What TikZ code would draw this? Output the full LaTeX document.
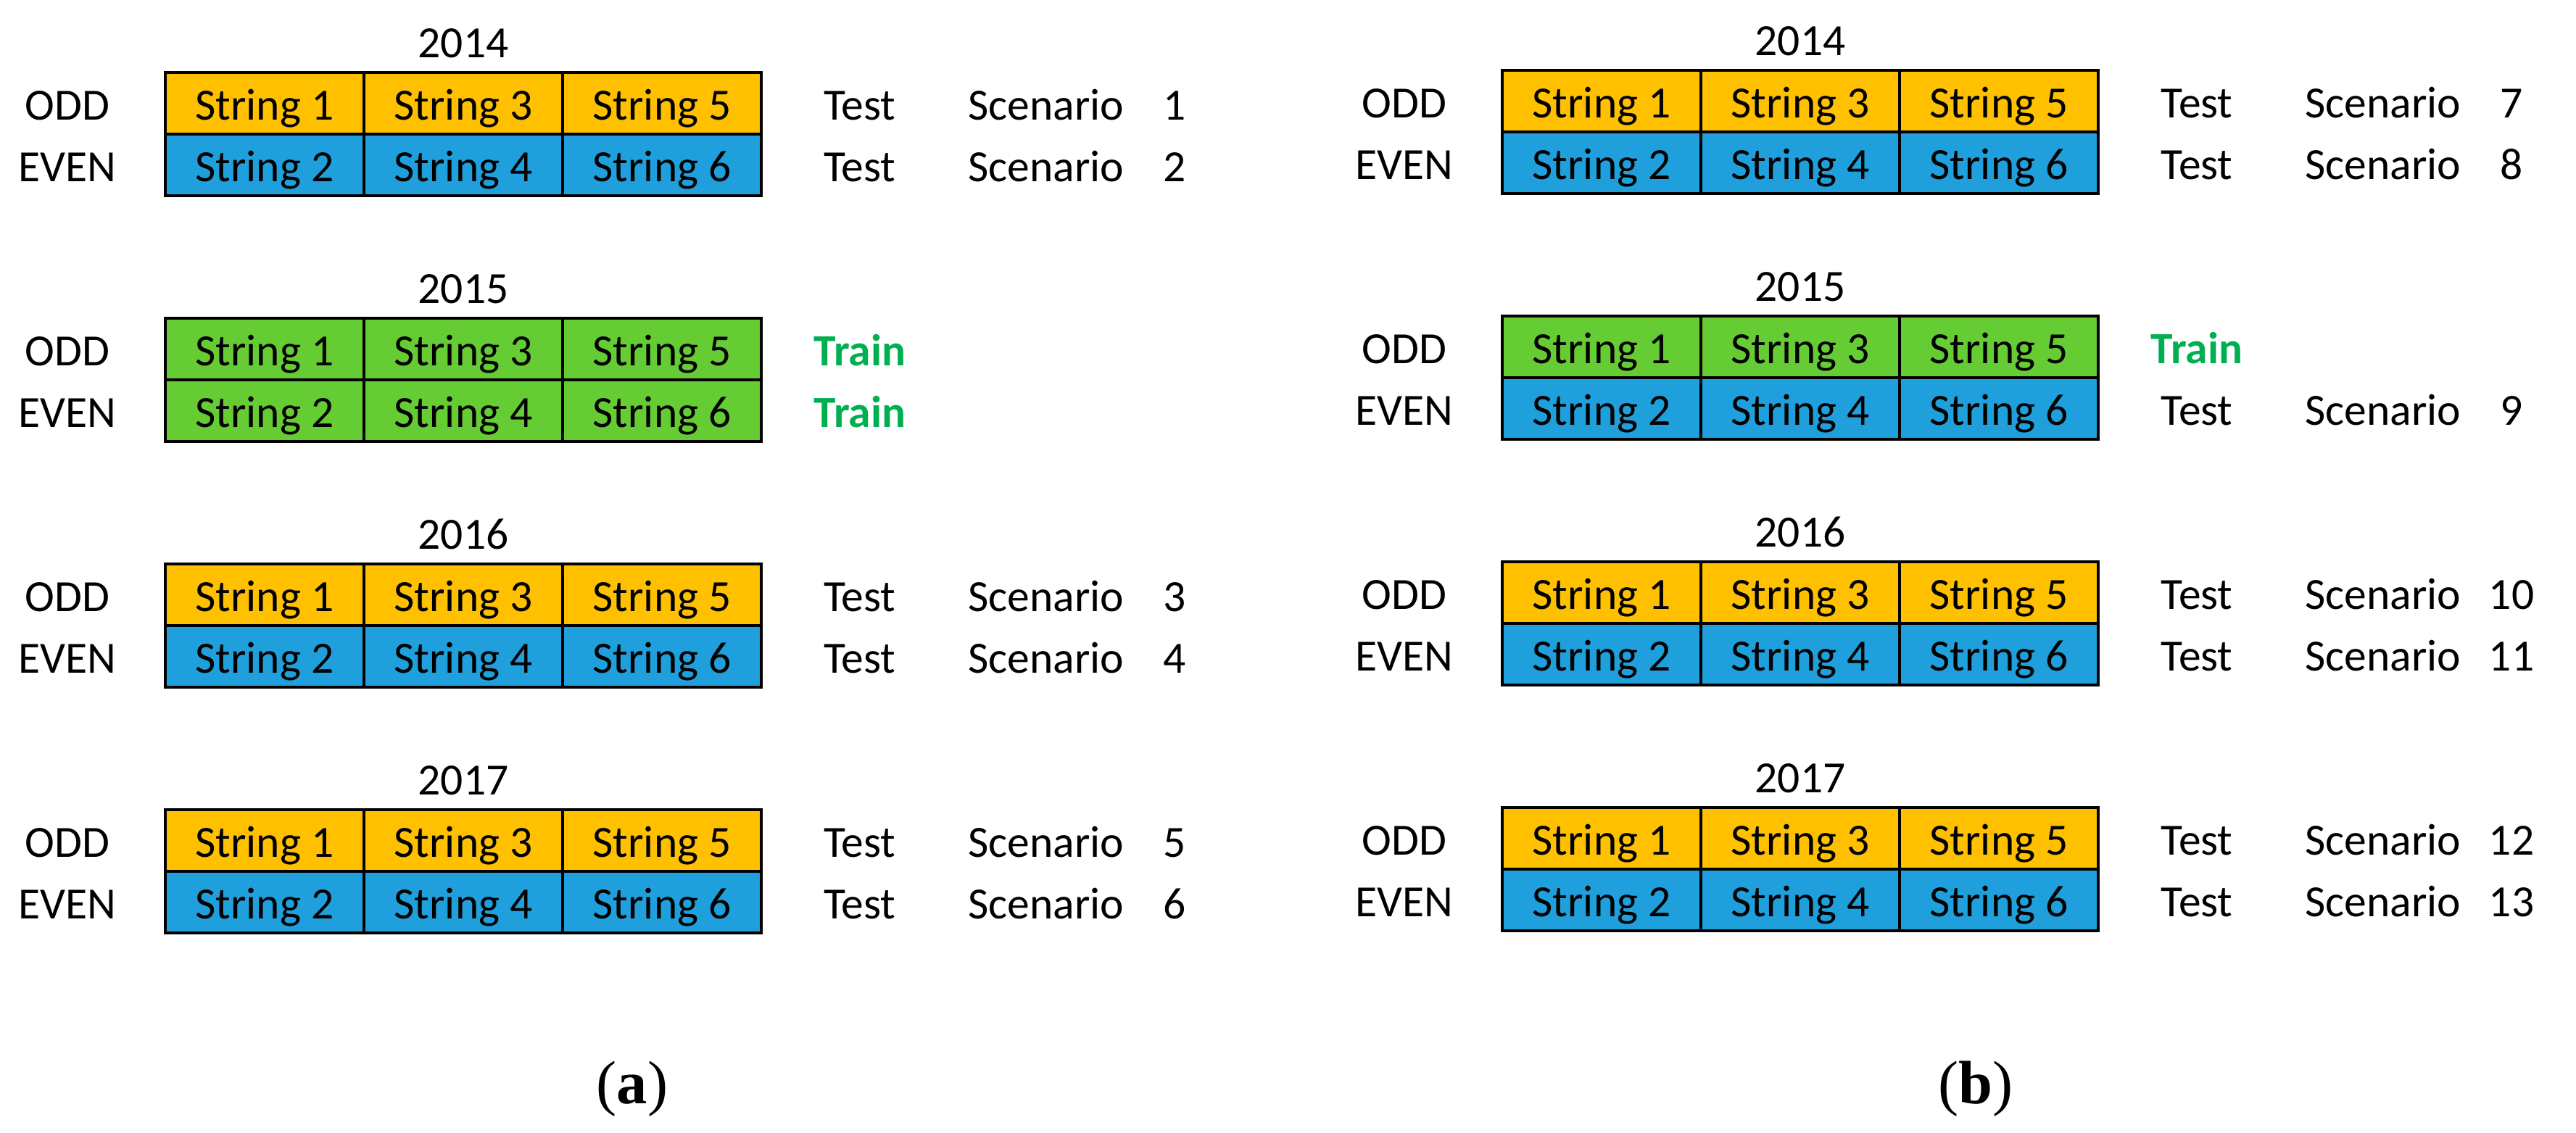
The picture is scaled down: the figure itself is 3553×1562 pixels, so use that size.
\documentclass[tikz,border=0pt]{standalone}
\usepackage{fontspec}
\setmainfont{Carlito}
\newfontfamily\capserif{Liberation Serif}
\definecolor{cOrange}{HTML}{FFC000}
\definecolor{cBlue}{HTML}{1FA0DC}
\definecolor{cGreen}{HTML}{66CC33}
\definecolor{cTrain}{HTML}{00B050}
\newcommand\fs{\fontsize{17.5pt}{21pt}\selectfont}
\tikzset{
  lbl/.style={inner sep=0pt, text height=0.55cm, text depth=0.1cm, font=\fs},
  cell/.style={lbl, draw=black, line width=1.3pt, minimum width=2.74cm, minimum height=0.85cm},
  trainlbl/.style={lbl, font=\fs\bfseries, text=cTrain},
  caplbl/.style={inner sep=0pt, font=\capserif\fontsize{24pt}{28pt}\selectfont}
}
% #1 name, #2 x0, #3 top, #4 year, #5 odd fill, #6 even fill
\newcommand\block[6]{%
  \node[lbl] (#1-year) at ({#2+411},{#3-43.5}) {#4};
  \node[lbl] (#1-odd) at ({#2-135},{#3+42.5}) {ODD};
  \node[lbl] (#1-even) at ({#2-135},{#3+127.5}) {EVEN};
  \node[cell,fill=#5] (#1-s1) at ({#2+137},{#3+42.5}) {String 1};
  \node[cell,fill=#5] (#1-s3) at ({#2+411},{#3+42.5}) {String 3};
  \node[cell,fill=#5] (#1-s5) at ({#2+685},{#3+42.5}) {String 5};
  \node[cell,fill=#6] (#1-s2) at ({#2+137},{#3+127.5}) {String 2};
  \node[cell,fill=#6] (#1-s4) at ({#2+411},{#3+127.5}) {String 4};
  \node[cell,fill=#6] (#1-s6) at ({#2+685},{#3+127.5}) {String 6};
}
% #1 name, #2 x0, #3 row centre y, #4 number
\newcommand\testrow[4]{%
  \node[lbl] (#1-test) at ({#2+958},{#3}) {Test};
  \node[lbl] (#1-scen) at ({#2+1215},{#3}) {Scenario};
  \node[lbl] (#1-num) at ({#2+1392},{#3}) {#4};
}
\newcommand\trainrow[3]{%
  \node[trainlbl] (#1-train) at ({#2+958},{#3}) {Train};
}
\begin{document}
\begin{tikzpicture}[x=0.01cm,y=-0.01cm]
\useasboundingbox (0,0) rectangle (3553,1562);
% ---------- panel (a) ----------
\block{a14}{228}{100}{2014}{cOrange}{cBlue}
\testrow{a14o}{228}{142.5}{1}
\testrow{a14e}{228}{227.5}{2}
\block{a15}{228}{439}{2015}{cGreen}{cGreen}
\trainrow{a15o}{228}{481.5}
\trainrow{a15e}{228}{566.5}
\block{a16}{228}{778}{2016}{cOrange}{cBlue}
\testrow{a16o}{228}{820.5}{3}
\testrow{a16e}{228}{905.5}{4}
\block{a17}{228}{1117}{2017}{cOrange}{cBlue}
\testrow{a17o}{228}{1159.5}{5}
\testrow{a17e}{228}{1244.5}{6}
% ---------- panel (b) ----------
\block{b14}{2072}{97}{2014}{cOrange}{cBlue}
\testrow{b14o}{2072}{139.5}{7}
\testrow{b14e}{2072}{224.5}{8}
\block{b15}{2072}{436}{2015}{cGreen}{cBlue}
\trainrow{b15o}{2072}{478.5}
\testrow{b15e}{2072}{563.5}{9}
\block{b16}{2072}{775}{2016}{cOrange}{cBlue}
\testrow{b16o}{2072}{817.5}{10}
\testrow{b16e}{2072}{902.5}{11}
\block{b17}{2072}{1114}{2017}{cOrange}{cBlue}
\testrow{b17o}{2072}{1156.5}{12}
\testrow{b17e}{2072}{1241.5}{13}
% ---------- captions ----------
\node[caplbl] (cap-a) at (872,1502) {(\textbf{a})};
\node[caplbl] (cap-b) at (2725,1502) {(\textbf{b})};
\end{tikzpicture}
\end{document}
